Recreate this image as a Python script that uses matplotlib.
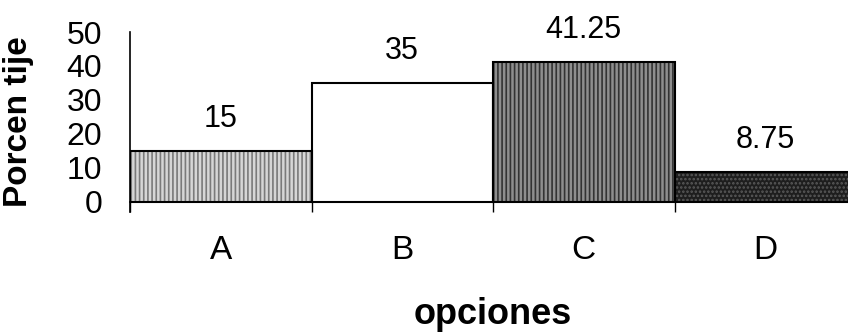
import matplotlib.pyplot as plt

categories = ['A', 'B', 'C', 'D']
values = [15, 35, 41.25, 8.75]
value_labels = ['15', '35', '41.25', '8.75']
y_ticks = [0, 10, 20, 30, 40, 50]

plt.rcParams['font.family'] = ['Liberation Sans', 'DejaVu Sans']
plt.rcParams['hatch.linewidth'] = 1.2

fig = plt.figure(figsize=(8.48, 3.36), dpi=100)
ax = fig.add_axes([130 / 848, 124 / 336, 726 / 848, 180 / 336])

x = list(range(len(categories)))
faces = ['#d6d6d6', 'white', '#8e8e8e', '#1e1e1e']
hatches = ['||||', '', '||||', '....']
hatch_cols = ['#7a7a7a', 'white', '#333333', '#5a5a5a']

# fill with texture first, then outline
for xi, v, fc, h, hc in zip(x, values, faces, hatches, hatch_cols):
    ax.bar(xi, v, width=1.0, color=fc, hatch=h, edgecolor=hc, linewidth=0)
ax.bar(x, values, width=1.0, fill=False, edgecolor='black', linewidth=1.5)

for xi, v, lab in zip(x, values, value_labels):
    ax.annotate(lab, (xi, v), xytext=(0, 12), textcoords='offset points',
                ha='center', va='bottom', fontsize=22, annotation_clip=False)

ax.set_xlim(-0.5, 3.5)
ax.set_ylim(-3, 50)
ax.set_yticks(y_ticks)
ax.set_yticklabels([str(t) for t in y_ticks], fontsize=23)
ax.tick_params(axis='y', length=0, pad=20)

ax.spines['top'].set_visible(False)
ax.spines['right'].set_visible(False)
ax.spines['bottom'].set_position(('data', 0))
ax.spines['left'].set_linewidth(1.2)
ax.spines['bottom'].set_linewidth(1.2)

ax.set_xticks(x)
ax.set_xticklabels(categories, fontsize=24)
ax.tick_params(axis='x', which='major', length=0, pad=24)
ax.set_xticks([-0.5, 0.5, 1.5, 2.5], minor=True)
ax.tick_params(axis='x', which='minor', length=7, width=1, direction='out')

ax.set_ylabel('Porcen tije', fontsize=24, fontweight='bold')
ax.yaxis.set_label_coords(-0.132, 0.5)
ax.set_xlabel('opciones', fontsize=26, fontweight='bold', labelpad=22)

fig.savefig('out.png', dpi=100)
